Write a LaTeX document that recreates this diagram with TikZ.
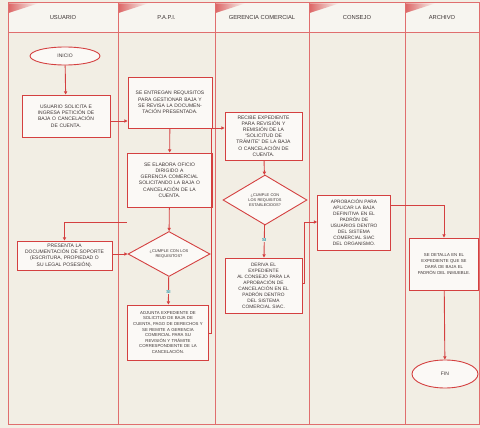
\documentclass[tikz,border=0pt]{standalone}
\usepackage{fontspec}
\setmainfont{Liberation Sans}
\usetikzlibrary{arrows.meta,shapes.geometric,calc}
\definecolor{flowred}{RGB}{212,64,64}
\definecolor{lanered}{RGB}{224,110,110}
\definecolor{paper}{RGB}{242,238,228}
\definecolor{headfill}{RGB}{247,245,240}
\definecolor{boxfill}{RGB}{251,249,246}
\definecolor{ink}{RGB}{60,52,52}
\definecolor{yescol}{RGB}{40,150,170}
\begin{document}
\begin{tikzpicture}[x=1pt,y=-1pt,
  every node/.style={font=\fontsize{5}{6.2}\selectfont, text=ink, align=center, inner sep=1pt},
  proc/.style={draw=flowred, fill=boxfill, line width=0.9pt, inner sep=1.5pt},
  decis/.style={draw=flowred, fill=boxfill, line width=0.9pt, diamond, inner sep=0pt},
  term/.style={draw=flowred, fill=boxfill, line width=0.9pt, ellipse, inner sep=0pt},
  flow/.style={draw=flowred, line width=0.9pt, -{Triangle[length=3.2pt,width=3.2pt]}},
  link/.style={draw=flowred, line width=0.9pt},
  yes/.style={font=\fontsize{4.4}{4.4}\selectfont\bfseries, text=yescol, fill=paper, inner sep=0.5pt},
  headtxt/.style={font=\fontsize{5.8}{6}\selectfont, text=ink}]

% page and lanes
\fill[paper] (0,0) rectangle (480,428);
\useasboundingbox (0,0) rectangle (480,428);
\foreach \xa/\xb/\name in {8/118/USUARIO, 118/215/P.A.P.I., 215/309/GERENCIA COMERCIAL, 309/405/CONSEJO, 405/479/ARCHIVO}{
  \fill[headfill] (\xa,3) rectangle (\xb,33);
  \shade[left color=flowred!80, right color=headfill] (\xa+0.5,3.5) -- (\xa+30,3.5) -- (\xa+0.5,13) -- cycle;
  \draw[lanered, line width=1pt] (\xa,3) rectangle (\xb,33);
  \draw[lanered, line width=1pt] (\xa,33) rectangle (\xb,424);
  \node[headtxt] at ({(\xa+\xb)/2},18) {\name};
}

% nodes
\node[term, minimum width=70pt, minimum height=18pt] (inicio) at (65,56) {INICIO};
\node[proc, minimum width=88pt, minimum height=42pt, text width=84pt] (u1) at (66,116)
  {USUARIO SOLICITA E\\INGRESA PETICIÓN DE\\BAJA O CANCELACIÓN\\DE CUENTA.};
\node[proc, minimum width=84pt, minimum height=51pt, text width=80pt] (p1) at (170,102.5)
  {SE ENTREGAN REQUISITOS\\PARA GESTIONAR BAJA Y\\SE REVISA LA DOCUMEN-\\TACIÓN PRESENTADA.};
\node[proc, minimum width=85pt, minimum height=54pt, text width=80pt] (p2) at (169.5,180)
  {SE ELABORA OFICIO\\DIRIGIDO A\\GERENCIA COMERCIAL\\SOLICITANDO LA BAJA O\\CANCELACIÓN DE LA\\CUENTA.};
\node[decis, minimum width=82pt, minimum height=45pt, aspect=1.8, text width=52pt,
  font=\fontsize{4}{4.8}\selectfont] (pd) at (169,254)
  {¿CUMPLE CON LOS\\REQUISITOS?};
\node[proc, minimum width=95pt, minimum height=29pt, text width=92pt] (u2) at (64.5,255.5)
  {PRESENTA LA\\DOCUMENTACIÓN DE SOPORTE\\(ESCRITURA, PROPIEDAD O\\SU LEGAL POSESIÓN).};
\node[proc, minimum width=80pt, minimum height=55pt, text width=78pt,
  font=\fontsize{4.3}{5.6}\selectfont] (p3) at (168,332.5)
  {ADJUNTA EXPEDIENTE DE\\SOLICITUD DE BAJA DE\\CUENTA, PAGO DE DERECHOS Y\\SE REMITE A GERENCIA\\COMERCIAL PARA SU\\REVISIÓN Y TRÁMITE\\CORRESPONDIENTE DE LA\\CANCELACIÓN.};
\node[proc, minimum width=77pt, minimum height=48pt, text width=74pt] (g1) at (263.5,136)
  {RECIBE EXPEDIENTE\\PARA REVISIÓN Y\\REMISIÓN DE LA\\“SOLICITUD DE\\TRÁMITE” DE LA BAJA\\O CANCELACIÓN DE\\CUENTA.};
\node[decis, minimum width=84pt, minimum height=50pt, aspect=1.7, text width=56pt,
  font=\fontsize{3.9}{4.7}\selectfont] (gd) at (265,200)
  {¿CUMPLE CON LOS REQUISITOS\\ESTABLECIDOS?};
\node[proc, minimum width=77pt, minimum height=55pt, text width=74pt,
  font=\fontsize{4.8}{6}\selectfont] (g2) at (263.5,285.5)
  {DERIVA EL\\EXPEDIENTE\\AL CONSEJO PARA LA\\APROBACIÓN DE\\CANCELACIÓN EN EL\\PADRÓN DENTRO\\DEL SISTEMA\\COMERCIAL SIAC.};
\node[proc, minimum width=72pt, minimum height=55pt, text width=70pt,
  font=\fontsize{4.8}{6}\selectfont] (c1) at (354,222.5)
  {APROBACIÓN PARA\\APLICAR LA BAJA\\DEFINITIVA EN EL\\PADRÓN DE\\USUARIOS DENTRO\\DEL SISTEMA\\COMERCIAL SIAC\\DEL ORGANISMO.};
\node[proc, minimum width=68pt, minimum height=52pt, text width=66pt,
  font=\fontsize{4.3}{5.8}\selectfont] (a1) at (444,264)
  {SE DETALLA EN EL\\EXPEDIENTE QUE SE\\DARÁ DE BAJA EL\\PADRÓN DEL INMUEBLE.};
\node[term, minimum width=66pt, minimum height=28pt] (fin) at (445,374) {FIN};

% connectors
\coordinate (pj) at (211,128);
\coordinate (gj) at (304,222);
\coordinate (nj) at (123,222);
\draw[flow] (inicio) -- (u1);
\draw[flow] (u1.east |- 0,121) -- (p1.west |- 0,121);
\draw[flow] (p1) -- (p2);
\draw[flow] (p2) -- (pd);
\draw[link] (p2.south west |- 0,222) -- (nj);
\draw[flow] (nj) -| (u2.north);
\draw[flow] (u2.east |- pd.west) -- (pd.west);
\draw[flow] (pd) -- node[yes, pos=0.55] {SI} (p3);
\draw[flow] (p3.east |- 0,333) -| (pj) -- (g1.west |- pj);
\draw[flow] (g1) -- (gd);
\draw[flow] (gd) -- node[yes, pos=0.45] {SI} (g2);
\draw[flow] (g2.east |- 0,283) -| (gj) -- (c1.west |- gj);
\draw[flow] (c1.east |- 0,205) -| (a1.north);
\draw[flow] (a1) -- (fin);
\end{tikzpicture}
\end{document}
